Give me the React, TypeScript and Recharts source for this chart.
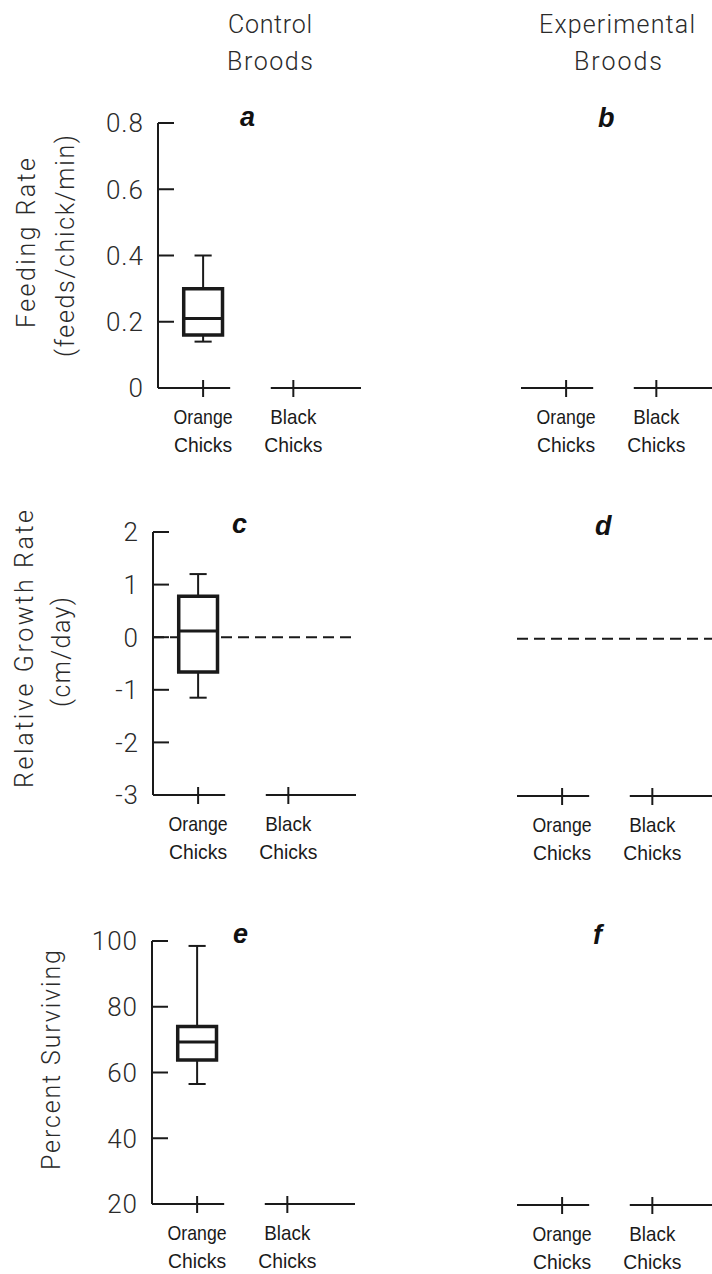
import React from 'react';
import { ComposedChart, XAxis, YAxis, ReferenceLine, ReferenceArea } from 'recharts';

// categories on a numeric x scale so the broken axis can be drawn in data units
const categories = ['Orange Chicks', 'Black Chicks'];
const categoryPositions = [1, 2];
const xDomain = [0.5, 2.75];
const axisSegments = [
  [0.5, 1.3],
  [1.75, 2.75],
];

const feedingTicks = [0, 0.2, 0.4, 0.6, 0.8];
const growthTicks = [-3, -2, -1, 0, 1, 2];
const survivalTicks = [20, 40, 60, 80, 100];

// box stats: [min, q1, median, q3, max] (control broods, orange chicks)
const feedingControlOrange = [0.14, 0.16, 0.21, 0.3, 0.4];
const growthControlOrange = [-1.15, -0.66, 0.12, 0.78, 1.2];
const survivalControlOrange = [56.5, 63.8, 69.3, 74, 98.5];

const INK = '#1a1a1a';
const TEXT = '#2a2a2a';
const THIN_FONT = 'Roboto, "Liberation Sans", sans-serif';
const LABEL_FONT = '"Liberation Sans", Arial, sans-serif';

// rendered widths of the condensed category words
const wordWidths: Record<string, number> = { Orange: 59, Black: 46, Chicks: 58 };

const Y_W = 70;
const M_T = 24;
const M_R = 10;
const X_H = 80;
const PLOT_W = 203;
const BOX_HALF = 0.215;
const CAP_HALF = 0.095;

const YTick = (props: any) => {
  const { x, y, payload } = props;
  return (
    <g>
      <line x1={x} x2={x + 16} y1={y} y2={y} stroke={INK} strokeWidth={2} />
      <text
        x={x - 14}
        y={y}
        dy="0.36em"
        textAnchor="end"
        fill={TEXT}
        fontFamily={THIN_FONT}
        fontWeight={300}
        fontSize={26}
        letterSpacing={1}
      >
        {payload.value}
      </text>
    </g>
  );
};

const XTick = (props: any) => {
  const { x, y, payload } = props;
  const label = categories[categoryPositions.indexOf(payload.value)] || '';
  const [l1, l2] = label.split(' ');
  return (
    <g>
      <line x1={x} x2={x} y1={y - 8} y2={y + 9} stroke={INK} strokeWidth={2} />
      <text
        x={x}
        y={y + 36}
        textAnchor="middle"
        fill={INK}
        fontFamily={LABEL_FONT}
        fontSize={21}
        textLength={wordWidths[l1]}
        lengthAdjust="spacingAndGlyphs"
      >
        {l1}
      </text>
      <text
        x={x}
        y={y + 64}
        textAnchor="middle"
        fill={INK}
        fontFamily={LABEL_FONT}
        fontSize={21}
        textLength={wordWidths[l2]}
        lengthAdjust="spacingAndGlyphs"
      >
        {l2}
      </text>
    </g>
  );
};

type PanelProps = {
  left: number;
  top: number;
  plotHeight: number;
  ticks: number[];
  showY: boolean;
  box?: number[];
  zeroLine?: boolean;
};

function Panel({ left, top, plotHeight, ticks, showY, box, zeroLine }: PanelProps) {
  const yDomain = [ticks[0], ticks[ticks.length - 1]];
  const base = yDomain[0];
  const refs: React.ReactNode[] = [];

  axisSegments.forEach((s, i) => {
    refs.push(
      <ReferenceLine
        key={`seg${i}`}
        segment={[{ x: s[0], y: base }, { x: s[1], y: base }]}
        stroke={INK}
        strokeWidth={2}
        ifOverflow="visible"
      />
    );
  });

  if (zeroLine) {
    refs.push(
      <ReferenceLine
        key="zero"
        y={0}
        stroke={INK}
        strokeWidth={2}
        strokeDasharray="11 6"
        ifOverflow="visible"
        zIndex={0}
      />
    );
  }

  if (box) {
    const [mn, q1, med, q3, mx] = box;
    const c = categoryPositions[0];
    refs.push(
      <ReferenceLine key="wu" segment={[{ x: c, y: q3 }, { x: c, y: mx }]} stroke={INK} strokeWidth={2} ifOverflow="visible" />,
      <ReferenceLine key="cu" segment={[{ x: c - CAP_HALF, y: mx }, { x: c + CAP_HALF, y: mx }]} stroke={INK} strokeWidth={2} ifOverflow="visible" />,
      <ReferenceLine key="wl" segment={[{ x: c, y: mn }, { x: c, y: q1 }]} stroke={INK} strokeWidth={2} ifOverflow="visible" />,
      <ReferenceLine key="cl" segment={[{ x: c - CAP_HALF, y: mn }, { x: c + CAP_HALF, y: mn }]} stroke={INK} strokeWidth={2} ifOverflow="visible" />,
      <ReferenceArea
        key="box"
        x1={c - BOX_HALF}
        x2={c + BOX_HALF}
        y1={q1}
        y2={q3}
        fill="#ffffff"
        fillOpacity={1}
        stroke={INK}
        strokeWidth={3.5}
        ifOverflow="visible"
        zIndex={10}
      />,
      <ReferenceLine
        key="med"
        segment={[{ x: c - BOX_HALF, y: med }, { x: c + BOX_HALF, y: med }]}
        stroke={INK}
        strokeWidth={3}
        ifOverflow="visible"
        zIndex={20}
      />
    );
  }

  return (
    <div style={{ position: 'absolute', left: left - Y_W, top: top - M_T }}>
      <ComposedChart
        width={Y_W + PLOT_W + M_R}
        height={M_T + plotHeight + X_H}
        data={[]}
        margin={{ top: M_T, right: M_R, bottom: 0, left: 0 }}
      >
        <XAxis
          type="number"
          dataKey="x"
          domain={xDomain}
          ticks={categoryPositions}
          interval={0}
          allowDataOverflow
          axisLine={false}
          tickLine={false}
          tickSize={0}
          tickMargin={0}
          height={X_H}
          tick={<XTick />}
        />
        <YAxis
          type="number"
          domain={yDomain}
          ticks={ticks}
          interval={0}
          allowDataOverflow
          width={Y_W}
          axisLine={showY ? { stroke: INK, strokeWidth: 2 } : false}
          tickLine={false}
          tickSize={0}
          tickMargin={0}
          tick={showY ? <YTick /> : false}
        />
        {refs}
      </ComposedChart>
    </div>
  );
}

const titleStyle = {
  fill: TEXT,
  fontFamily: THIN_FONT,
  fontWeight: 300,
  fontSize: 25,
} as const;

const letterStyle = {
  fill: '#111',
  fontFamily: LABEL_FONT,
  fontWeight: 700,
  fontStyle: 'italic',
  fontSize: 27,
} as const;

export default function App() {
  return (
    <div
      style={{
        position: 'absolute',
        left: 0,
        top: 0,
        width: 712,
        height: 1274,
        overflow: 'hidden',
        background: '#fff',
      }}
    >
      <Panel left={158} top={123} plotHeight={265} ticks={feedingTicks} showY box={feedingControlOrange} />
      <Panel left={521} top={123} plotHeight={265} ticks={feedingTicks} showY={false} />
      <Panel left={153} top={532} plotHeight={263} ticks={growthTicks} showY box={growthControlOrange} zeroLine />
      <Panel left={517} top={534} plotHeight={262} ticks={growthTicks} showY={false} zeroLine />
      <Panel left={152} top={941} plotHeight={263} ticks={survivalTicks} showY box={survivalControlOrange} />
      <Panel left={517} top={942} plotHeight={263} ticks={survivalTicks} showY={false} />

      <svg
        width={712}
        height={1274}
        style={{ position: 'absolute', left: 0, top: 0, pointerEvents: 'none' }}
      >
        <text x={270} y={33} textAnchor="middle" textLength={84} lengthAdjust="spacing" {...titleStyle}>Control</text>
        <text x={270} y={70} textAnchor="middle" textLength={86} lengthAdjust="spacing" {...titleStyle}>Broods</text>
        <text x={617} y={33} textAnchor="middle" textLength={156} lengthAdjust="spacing" {...titleStyle}>Experimental</text>
        <text x={618} y={70} textAnchor="middle" textLength={88} lengthAdjust="spacing" {...titleStyle}>Broods</text>

        <text x={240} y={126} {...letterStyle}>a</text>
        <text x={598} y={127} {...letterStyle}>b</text>
        <text x={232} y={533} {...letterStyle}>c</text>
        <text x={595} y={535} {...letterStyle}>d</text>
        <text x={233} y={943} {...letterStyle}>e</text>
        <text x={593} y={944} {...letterStyle}>f</text>

        <text transform="translate(35,243) rotate(-90)" textAnchor="middle" textLength={170} lengthAdjust="spacing" {...titleStyle}>Feeding Rate</text>
        <text transform="translate(74,246) rotate(-90)" textAnchor="middle" textLength={222} lengthAdjust="spacing" {...titleStyle}>(feeds/chick/min)</text>
        <text transform="translate(33,649) rotate(-90)" textAnchor="middle" textLength={278} lengthAdjust="spacing" {...titleStyle}>Relative Growth Rate</text>
        <text transform="translate(70,652) rotate(-90)" textAnchor="middle" textLength={110} lengthAdjust="spacing" {...titleStyle}>(cm/day)</text>
        <text transform="translate(60,1060) rotate(-90)" textAnchor="middle" textLength={220} lengthAdjust="spacing" {...titleStyle}>Percent Surviving</text>
      </svg>
    </div>
  );
}
